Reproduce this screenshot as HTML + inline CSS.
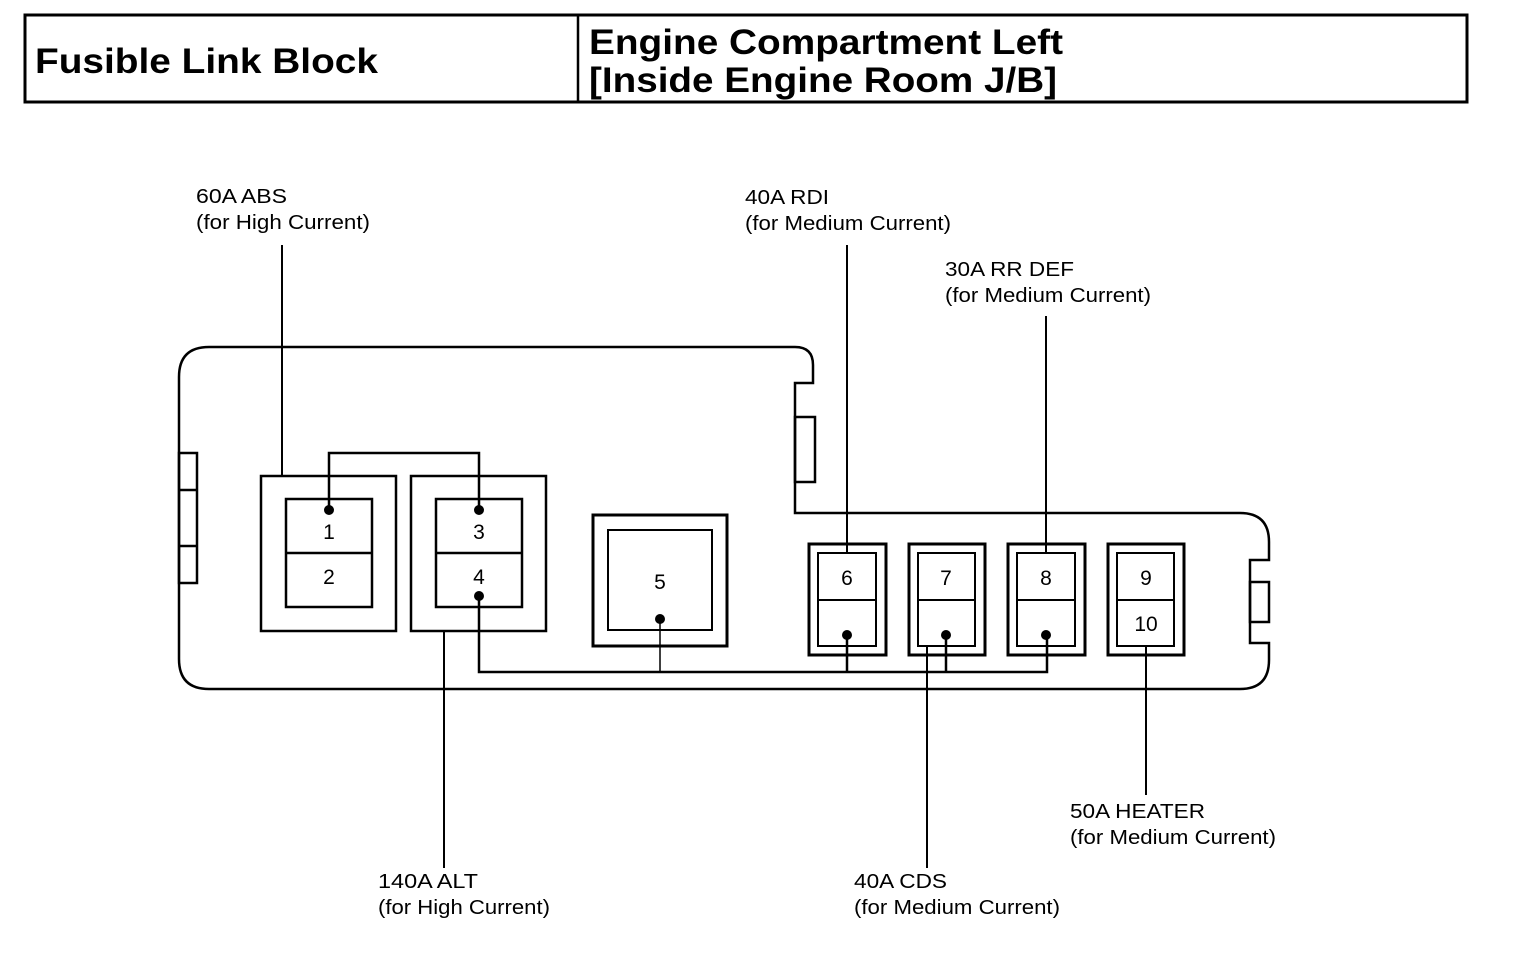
<!DOCTYPE html>
<html><head><meta charset="utf-8"><style>html,body{margin:0;padding:0;background:#fff}svg{display:block}</style></head>
<body>
<svg width="1520" height="972" viewBox="0 0 1520 972" xmlns="http://www.w3.org/2000/svg" font-family="Liberation Sans, Arial, sans-serif">
<rect width="1520" height="972" fill="#fff"/>
<g fill="none" stroke="#000">
<rect x="25" y="15" width="1442" height="87" stroke-width="3"/>
<line x1="578" y1="15" x2="578" y2="102" stroke-width="2.5"/>
</g>
<g font-weight="bold" font-size="35" fill="#000">
<text x="35" y="73" textLength="343" lengthAdjust="spacingAndGlyphs">Fusible Link Block</text>
<text x="589" y="54" textLength="474" lengthAdjust="spacingAndGlyphs">Engine Compartment Left</text>
<text x="589" y="92" textLength="468" lengthAdjust="spacingAndGlyphs">[Inside Engine Room J/B]</text>
</g>
<g fill="none" stroke="#000" stroke-width="2.5">
<path d="M209 347 H795 Q813 347 813 365 V383 H795 V513 H1240 Q1269 513 1269 542 V560 H1250 V643 H1269 V660 Q1269 689 1240 689 H209 Q179 689 179 659 V377 Q179 347 209 347 Z"/>
<rect x="795" y="417" width="20" height="65"/>
<rect x="1250" y="582" width="19" height="40"/>
<rect x="179" y="453" width="18" height="130"/>
<line x1="179" y1="490" x2="197" y2="490"/>
<line x1="179" y1="546" x2="197" y2="546"/>
<rect x="261" y="476" width="135" height="155"/>
<rect x="286" y="499" width="86" height="108"/>
<line x1="286" y1="553" x2="372" y2="553"/>
<rect x="411" y="476" width="135" height="155"/>
<rect x="436" y="499" width="86" height="108"/>
<line x1="436" y1="553" x2="522" y2="553"/>
<rect x="593" y="515" width="134" height="131" stroke-width="3"/>
<rect x="608" y="530" width="104" height="100" stroke-width="2"/>
<g stroke-width="3">
<rect x="809" y="544" width="77" height="111"/>
<rect x="909" y="544" width="76" height="111"/>
<rect x="1008" y="544" width="77" height="111"/>
<rect x="1108" y="544" width="76" height="111"/>
</g>
<g stroke-width="2">
<rect x="818" y="553" width="58" height="93"/><line x1="818" y1="600" x2="876" y2="600"/>
<rect x="918" y="553" width="57" height="93"/><line x1="918" y1="600" x2="975" y2="600"/>
<rect x="1017" y="553" width="58" height="93"/><line x1="1017" y1="600" x2="1075" y2="600"/>
<rect x="1117" y="553" width="57" height="93"/><line x1="1117" y1="600" x2="1174" y2="600"/>
</g>
<path d="M329 510 V453 H479 V510"/>
<path d="M479 596 V672 H1047 V635"/>
<line x1="660" y1="619" x2="660" y2="672" stroke-width="1.5"/>
<line x1="847" y1="635" x2="847" y2="672"/>
<line x1="946" y1="635" x2="946" y2="672"/>
<g stroke-width="2">
<line x1="282" y1="245" x2="282" y2="476"/>
<line x1="847" y1="245" x2="847" y2="553"/>
<line x1="1046" y1="316" x2="1046" y2="553"/>
<line x1="444" y1="631" x2="444" y2="868"/>
<line x1="927" y1="646" x2="927" y2="868"/>
<line x1="1146" y1="646" x2="1146" y2="795"/>
</g>
</g>
<g fill="#000">
<circle cx="329" cy="510" r="5"/><circle cx="479" cy="510" r="5"/><circle cx="479" cy="596" r="5"/>
<circle cx="660" cy="619" r="5"/><circle cx="847" cy="635" r="5"/><circle cx="946" cy="635" r="5"/><circle cx="1046" cy="635" r="5"/>
</g>
<g font-size="21" fill="#000" text-anchor="middle">
<text x="329" y="539">1</text><text x="329" y="584">2</text>
<text x="479" y="539">3</text><text x="479" y="584">4</text>
<text x="660" y="589">5</text>
<text x="847" y="585">6</text><text x="946" y="585">7</text><text x="1046" y="585">8</text>
<text x="1146" y="585">9</text><text x="1146" y="631">10</text>
</g>
<g font-size="20" fill="#000">
<text x="196" y="203" textLength="91" lengthAdjust="spacingAndGlyphs">60A ABS</text><text x="196" y="229" textLength="174" lengthAdjust="spacingAndGlyphs">(for High Current)</text>
<text x="745" y="204" textLength="84" lengthAdjust="spacingAndGlyphs">40A RDI</text><text x="745" y="230" textLength="206" lengthAdjust="spacingAndGlyphs">(for Medium Current)</text>
<text x="945" y="276" textLength="129" lengthAdjust="spacingAndGlyphs">30A RR DEF</text><text x="945" y="302" textLength="206" lengthAdjust="spacingAndGlyphs">(for Medium Current)</text>
<text x="1070" y="818" textLength="135" lengthAdjust="spacingAndGlyphs">50A HEATER</text><text x="1070" y="844" textLength="206" lengthAdjust="spacingAndGlyphs">(for Medium Current)</text>
<text x="378" y="888" textLength="100" lengthAdjust="spacingAndGlyphs">140A ALT</text><text x="378" y="914" textLength="172" lengthAdjust="spacingAndGlyphs">(for High Current)</text>
<text x="854" y="888" textLength="93" lengthAdjust="spacingAndGlyphs">40A CDS</text><text x="854" y="914" textLength="206" lengthAdjust="spacingAndGlyphs">(for Medium Current)</text>
</g>
</svg>
</body></html>
